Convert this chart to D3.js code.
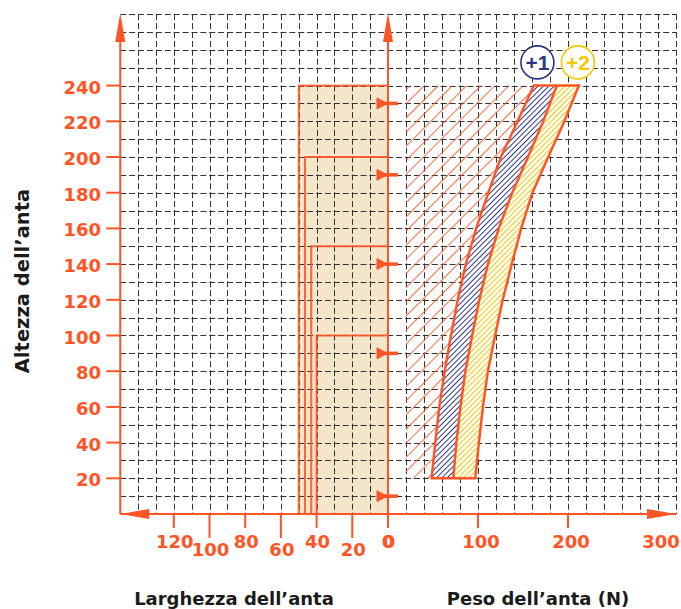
<!DOCTYPE html>
<html>
<head>
<meta charset="utf-8">
<script src="https://cdn.jsdelivr.net/npm/d3@7"></script>
<style>
  html, body { margin: 0; padding: 0; background: #fff; }
  svg { display: block; }
  text { font-family: 'DejaVu Sans', sans-serif; font-weight: bold; }
</style>
</head>
<body>
<svg class="chart"></svg>
<script>
// door height (cm) ticks on the left axis
const heightTicks = [20, 40, 60, 80, 100, 120, 140, 160, 180, 200, 220, 240];
// door width ticks (left half, bottom) and door weight ticks (right half, bottom)
const widthTicks = [0, 20, 40, 60, 80, 100, 120];
const weightTicks = [0, 100, 200, 300];

// limits of the +1 / +2 bands, weight (N) read at each height
const bandHeights = [20, 40, 60, 80, 100, 120, 140, 160, 180, 200, 220, 240];
const bandLeft = [48.5, 52.5, 57, 63, 70, 77.5, 86.5, 98, 111.5, 125.5, 144, 162];
const bandMid = [72.5, 76, 80.5, 86, 93.5, 101.5, 111, 123, 138, 155.5, 172.5, 187.5];
const bandRight = [97, 101, 105.5, 111, 119, 127.5, 137.5, 148, 160.5, 178, 196, 212];
const hatchMinWeight = 20;

// nested door sizes on the left (width, height)
const doorWidths = [50, 46.5, 43, 40];
const doorHeights = [240, 200, 150, 100];
const markerHeights = [230, 190, 140, 90, 10];
const bandLabels = ['+1', '+2'];
const bandLabelWeights = [166, 211];

const orange = '#ff5426';
const navy = '#2b3783';
const gold = '#f7c800';

const [width, height] = [681, 609];
const svg = d3.select('.chart').attr('width', width).attr('height', height);

const yH = d3.scaleLinear().domain([0, 280]).range([514, 14.2]);
const xW = d3.scaleLinear().domain([0, 150]).range([388, 388 - 150 * 1.785]);
const xN = d3.scaleLinear().domain([0, 320]).range([388, 676]);

// hatch patterns
const defs = svg.append('defs');
const hatch = (id, color, gap, lw) => {
  defs.append('pattern')
    .attr('id', id)
    .attr('patternUnits', 'userSpaceOnUse')
    .attr('width', gap).attr('height', gap)
    .attr('patternTransform', 'rotate(45)')
    .append('line')
    .attr('x1', 0).attr('y1', -1).attr('x2', 0).attr('y2', gap + 1)
    .attr('stroke', color).attr('stroke-width', lw);
};
hatch('hatch-orange', orange, 10, 1.7);
hatch('hatch-navy', navy, 3.8, 2);
hatch('hatch-gold', gold, 3.8, 2);

// beige door area
svg.append('rect')
  .attr('x', xW(doorWidths[0])).attr('y', yH(doorHeights[0]))
  .attr('width', xW(0) - xW(doorWidths[0])).attr('height', yH(0) - yH(doorHeights[0]))
  .attr('fill', '#f3e6cb');

// dashed grid
const grid = svg.append('g').attr('stroke', '#333').attr('stroke-width', 1).attr('stroke-dasharray', '6,2.9');
grid.selectAll('.h').data(d3.range(10, 281, 10)).enter().append('line')
  .attr('x1', xW(150)).attr('x2', xN(320))
  .attr('y1', (d) => Math.round(yH(d)) + 0.5).attr('y2', (d) => Math.round(yH(d)) + 0.5);
grid.selectAll('.vl').data(d3.range(10, 150, 10)).enter().append('line')
  .attr('x1', (d) => Math.round(xW(d)) + 0.5).attr('x2', (d) => Math.round(xW(d)) + 0.5)
  .attr('y1', yH(280)).attr('y2', yH(0));
grid.selectAll('.vr').data(d3.range(20, 321, 20)).enter().append('line')
  .attr('x1', (d) => Math.round(xN(d)) + 0.5).attr('x2', (d) => Math.round(xN(d)) + 0.5)
  .attr('y1', yH(280)).attr('y2', yH(0));

// bands
const pts = bandHeights.map((h, i) => ({ h, l: bandLeft[i], m: bandMid[i], r: bandRight[i] }));
const area = (x0, x1) => d3.area().y((d) => yH(d.h)).x0((d) => xN(x0(d))).x1((d) => xN(x1(d)));

svg.append('path').datum(pts).attr('d', area(() => hatchMinWeight, (d) => d.l)).attr('fill', 'url(#hatch-orange)');
svg.append('path').datum(pts).attr('d', area((d) => d.l, (d) => d.r)).attr('fill', '#fff');
svg.append('path').datum(pts).attr('d', area((d) => d.l, (d) => d.m)).attr('fill', 'url(#hatch-navy)');
svg.append('path').datum(pts).attr('d', area((d) => d.m, (d) => d.r)).attr('fill', 'url(#hatch-gold)');
svg.append('path').datum(pts).attr('d', area((d) => d.l, (d) => d.r))
  .attr('fill', 'none').attr('stroke', orange).attr('stroke-width', 2.5).attr('stroke-linejoin', 'miter');
svg.append('path').datum(pts)
  .attr('d', d3.line().x((d) => xN(d.m)).y((d) => yH(d.h)))
  .attr('fill', 'none').attr('stroke', orange).attr('stroke-width', 2.5);

// door outlines
svg.selectAll('.door').data(doorWidths).enter().append('rect')
  .attr('x', (d) => xW(d)).attr('y', (d, i) => yH(doorHeights[i]))
  .attr('width', (d) => xW(0) - xW(d)).attr('height', (d, i) => yH(0) - yH(doorHeights[i]))
  .attr('fill', 'none').attr('stroke', orange).attr('stroke-width', 2).attr('stroke-opacity', 0.9);

// axes
const axes = svg.append('g').attr('stroke', orange).attr('stroke-width', 2);
axes.append('line').attr('x1', xW(150)).attr('x2', xW(150)).attr('y1', yH(0)).attr('y2', 20);
axes.append('line').attr('x1', xN(0)).attr('x2', xN(0)).attr('y1', yH(0) + 14).attr('y2', 20);
axes.append('line').attr('x1', xW(150)).attr('x2', xN(320)).attr('y1', yH(0)).attr('y2', yH(0));
axes.selectAll('.yt').data(heightTicks).enter().append('line')
  .attr('x1', xW(150) - 14).attr('x2', xW(150)).attr('y1', (d) => yH(d)).attr('y2', (d) => yH(d));
axes.selectAll('.wt').data(widthTicks).enter().append('line')
  .attr('x1', (d) => xW(d)).attr('x2', (d) => xW(d))
  .attr('y1', yH(0)).attr('y2', (d) => yH(0) + (d % 40 === 0 ? 14 : 24));
axes.selectAll('.nt').data(weightTicks.slice(1, 3)).enter().append('line')
  .attr('x1', (d) => xN(d)).attr('x2', (d) => xN(d)).attr('y1', yH(0)).attr('y2', yH(0) + 14);

const heads = svg.append('g').attr('fill', orange);
[xW(150), xN(0)].forEach((x) => {
  heads.append('path').attr('d', `M${x},13L${x - 5},42L${x + 5},42Z`);
});
heads.append('path').attr('d', `M${xW(150)},${yH(0)}l29,-5l0,10Z`);
heads.append('path').attr('d', `M${xN(320)},${yH(0)}l-29,-5l0,10Z`);

// markers on the zero line
const marks = svg.append('g').attr('fill', orange).attr('stroke', orange);
marks.selectAll('path').data(markerHeights).enter().append('path')
  .attr('d', (d) => `M${xN(0) - 11},${yH(d) - 5.5}L${xN(0) - 1},${yH(d)}L${xN(0) - 11},${yH(d) + 5.5}Z`)
  .attr('stroke-width', 1);
marks.selectAll('line').data(markerHeights).enter().append('line')
  .attr('x1', xN(0) - 11).attr('x2', xN(0) + 10).attr('y1', (d) => yH(d)).attr('y2', (d) => yH(d))
  .attr('stroke-width', 3.5);

// tick labels
const labels = svg.append('g').attr('fill', orange).attr('font-size', 18);
labels.selectAll('.yl').data(heightTicks).enter().append('text')
  .attr('x', 101).attr('y', (d) => yH(d) + 8).attr('text-anchor', 'end').text((d) => d);
labels.selectAll('.wl').data(widthTicks).enter().append('text')
  .attr('x', (d) => xW(d) + 1).attr('y', (d) => (d % 40 === 0 ? 548 : 556))
  .attr('text-anchor', 'middle').text((d) => d);
labels.selectAll('.nl').data(weightTicks).enter().append('text')
  .attr('x', (d) => xN(d) + (d ? 3 : 0)).attr('y', 547.5)
  .attr('text-anchor', 'middle').text((d) => d);

// axis titles
const titles = svg.append('g').attr('fill', '#1b1b1b');
titles.append('text').attr('transform', 'translate(29,281) rotate(-90)')
  .attr('text-anchor', 'middle').attr('font-size', 19.5).text('Altezza dell’anta');
titles.append('text').attr('x', 234).attr('y', 605)
  .attr('text-anchor', 'middle').attr('font-size', 18).text('Larghezza dell’anta');
titles.append('text').attr('x', 538).attr('y', 605)
  .attr('text-anchor', 'middle').attr('font-size', 18).text('Peso dell’anta (N)');

// +1 / +2 badges
const badge = svg.selectAll('.badge').data(bandLabels).enter().append('g')
  .attr('transform', (d, i) => `translate(${xN(bandLabelWeights[i])},${yH(253)})`);
badge.append('circle').attr('r', 16.5).attr('fill', '#fff')
  .attr('stroke', (d, i) => (i ? gold : navy)).attr('stroke-width', 1.6);
badge.append('text').attr('y', 7.5).attr('text-anchor', 'middle')
  .style('font-family', "'Liberation Sans', Arial, sans-serif").attr('font-size', 21)
  .attr('fill', (d, i) => (i ? gold : navy)).text((d) => d);
</script>
</body>
</html>
